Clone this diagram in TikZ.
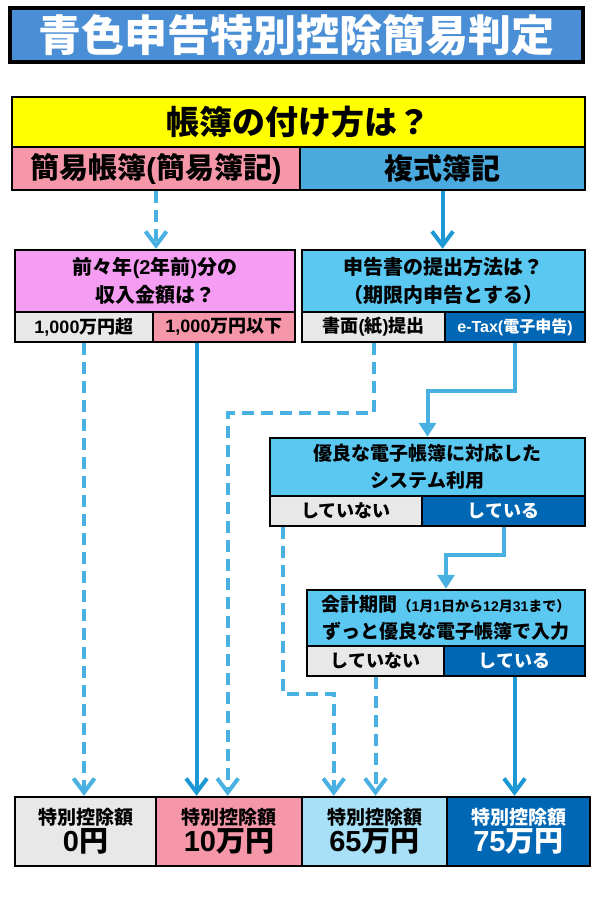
\documentclass[tikz,border=0pt]{standalone}
\usepackage{fontspec}
\setmainfont{Noto Sans CJK JP}
\newfontfamily\lat{Liberation Sans}
\usetikzlibrary{arrows.meta,calc}
\definecolor{titleblue}{HTML}{4A8FD6}
\definecolor{ylw}{HTML}{FFFF00}
\definecolor{pinkA}{HTML}{F597A8}
\definecolor{blueA}{HTML}{4AAADE}
\definecolor{magA}{HTML}{F59DF2}
\definecolor{ltblue}{HTML}{5BC8F2}
\definecolor{greyA}{HTML}{E8E8E8}
\definecolor{dkblue}{HTML}{0067B5}
\definecolor{paleblue}{HTML}{A8E0F7}
\definecolor{lineblue}{HTML}{1C98D5}
\definecolor{lineblueB}{HTML}{48B1E2}
\newcommand\mybox[7]{\node[bx,#6,minimum width={#4pt-#2pt},minimum height={#5pt-#3pt}] (#1) at ({(#2+#4)/2},{(#3+#5)/2}) {#7};}
\newcommand\Lt[1]{{\lat\bfseries #1}}
\begin{document}
\begin{tikzpicture}[x=1pt,y=-1pt,
  bx/.style={draw=black, line width=2.5pt, inner sep=0pt, align=center},
  conn/.style={line width=4pt, draw=lineblue, -{Straight Barb[length=14pt,width=21pt]}},
  dconn/.style={conn, draw=lineblueB, dash pattern=on 12pt off 7pt},
  tconn/.style={line width=4pt, draw=lineblueB, -{Triangle[length=14pt,width=17pt]}},
  f33/.style={font=\bfseries\fontsize{33}{38}\selectfont},
  f29/.style={font=\bfseries\fontsize{29}{34}\selectfont},
  f20/.style={font=\bfseries\fontsize{20}{28}\selectfont},
  f19/.style={font=\bfseries\fontsize{19}{27}\selectfont},
  f18/.style={font=\bfseries\fontsize{18}{22}\selectfont},
  f16/.style={font=\bfseries\fontsize{16}{22}\selectfont},
]
\useasboundingbox (0,0) rectangle (600,911);
\mybox{title}{10}{8}{583}{62}{fill=titleblue,line width=3.5pt,text=white,font=\bfseries\fontsize{43}{48}\selectfont}{青色申告特別控除簡易判定}
\mybox{q0}{12}{97}{585}{147}{fill=ylw,f33}{帳簿の付け方は？}
\mybox{kanni}{12}{147}{300}{190}{fill=pinkA,f29}{簡易帳簿\Lt{(}簡易簿記\Lt{)}}
\mybox{fuku}{300}{147}{585}{190}{fill=blueA,f29}{複式簿記}
\mybox{q1}{15}{250}{295}{312}{fill=magA,f20}{前々年\Lt{(2}年前\Lt{)}分の\\収入金額は？}
\mybox{o1}{15}{312}{153}{342}{fill=greyA,f18}{\Lt{1,000}万円超}
\mybox{o2}{153}{312}{295}{342}{fill=pinkA,f18}{\Lt{1,000}万円以下}
\mybox{q2}{302}{250}{585}{312}{fill=ltblue,f20}{申告書の提出方法は？\\（期限内申告とする）}
\mybox{p1}{302}{312}{445}{342}{fill=greyA,f18}{書面\Lt{(}紙\Lt{)}提出}
\mybox{p2}{445}{312}{585}{342}{fill=dkblue,text=white,f16}{\Lt{e-Tax(}電子申告\Lt{)}}
\mybox{q3}{270}{438}{585}{496}{fill=ltblue,f19}{優良な電子帳簿に対応した\\システム利用}
\mybox{s1}{270}{496}{422}{526}{fill=greyA,f18}{していない}
\mybox{s2}{422}{496}{585}{526}{fill=dkblue,text=white,f18}{している}
\mybox{q4}{307}{590}{585}{646}{fill=ltblue,f19}{会計期間{\fontsize{14}{14}\selectfont（\Lt{1}月\Lt{1}日から\Lt{12}月\Lt{31}まで）}\\ずっと優良な電子帳簿で入力}
\mybox{t1}{307}{646}{444}{676}{fill=greyA,f18}{していない}
\mybox{t2}{444}{646}{585}{676}{fill=dkblue,text=white,f18}{している}
\mybox{r0}{15}{797}{156}{866}{fill=greyA,f19}{特別控除額\\{\fontsize{29}{32}\selectfont \Lt{0}円}}
\mybox{r1}{156}{797}{302}{866}{fill=pinkA,f19}{特別控除額\\{\fontsize{29}{32}\selectfont \Lt{10}万円}}
\mybox{r2}{302}{797}{447}{866}{fill=paleblue,f19}{特別控除額\\{\fontsize{29}{32}\selectfont \Lt{65}万円}}
\mybox{r3}{447}{797}{590}{866}{fill=dkblue,text=white,f19}{特別控除額\\{\fontsize{29}{32}\selectfont \Lt{75}万円}}
% connectors
\draw[dconn] (kanni.south) -- (kanni.south |- q1.north);
\draw[conn] (fuku.south) -- (fuku.south |- q2.north);
\draw[dconn] (o1.south) -- (o1.south |- r0.north);
\coordinate (a1) at ($(o2.south west)!0.31!(o2.south east)$);
\draw[conn] (a1) -- (a1 |- r1.north);
\draw[dconn] (p1.south) -- ++(0,70) -| ($(r1.north west)+(73,0)$);
\draw[tconn] (p2.south) -- ++(0,48) -| (q3.north);
\draw[dconn] ($(s1.south west)+(14,0)$) -- ++(0,167) -| ($(r2.north west)+(33,0)$);
\draw[tconn] (s2.south) -- ++(0,28) -| (q4.north);
\draw[dconn] (t1.south) -- (t1.south |- r2.north);
\draw[conn] (t2.south) -- (t2.south |- r3.north);
\end{tikzpicture}
\end{document}
